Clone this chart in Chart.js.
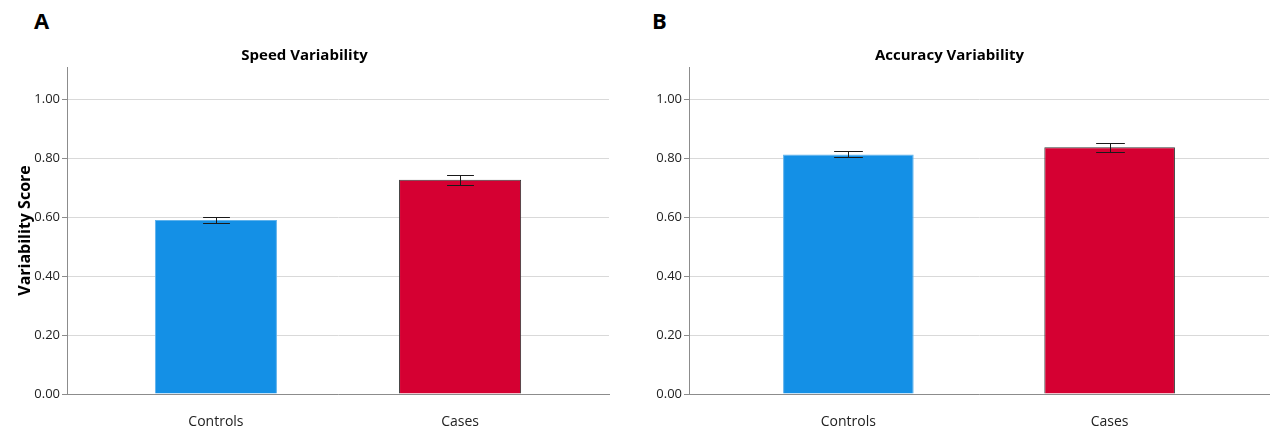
<!DOCTYPE html>
<html>
<head>
<meta charset="utf-8">
<script src="https://cdn.jsdelivr.net/npm/chart.js@4.4.1/dist/chart.umd.min.js"></script>
<style>
  body { margin: 0; background: #fff; width: 1271px; height: 432px; position: relative; overflow: hidden; font-family: 'Open Sans', sans-serif; }
  .panel { position: absolute; top: 0; height: 432px; }
  .tag { position: absolute; top: 5px; font: bold 22px 'Open Sans', sans-serif; color: #000; }
</style>
</head>
<body>
<div class="tag" style="left:34px">A</div>
<div class="tag" style="left:652px">B</div>
<div class="panel" style="left:0; width:615px"><canvas id="chartSpeed"></canvas></div>
<div class="panel" style="left:630px; width:641px"><canvas id="chartAcc"></canvas></div>
<script>
const groups = ['Controls', 'Cases'];
const speedMean = [0.591, 0.727];
const speedLow = [0.581, 0.710];
const speedHigh = [0.601, 0.743];
const accMean = [0.813, 0.838];
const accLow = [0.804, 0.823];
const accHigh = [0.824, 0.851];
const yTicks = [0, 0.2, 0.4, 0.6, 0.8, 1.0];
const barColors = ['#1490e6', '#d50032'];
const barBorders = ['#5fb2ec', '#3a3a3a'];

Chart.defaults.font.family = "'Open Sans', sans-serif";
Chart.defaults.color = '#222';

// draws the error bars with caps on top of each bar
const errorBars = {
  id: 'errorBars',
  afterDatasetsDraw(chart, args, opts) {
    const ctx = chart.ctx;
    const y = chart.scales.y;
    const meta = chart.getDatasetMeta(0);
    ctx.save();
    ctx.strokeStyle = '#1a1a1a';
    ctx.lineWidth = 1;
    meta.data.forEach((bar, i) => {
      const x = Math.round(bar.x) + 0.5;
      const half = bar.width * 0.11;
      const top = Math.round(y.getPixelForValue(opts.high[i])) + 0.5;
      const bot = Math.round(y.getPixelForValue(opts.low[i])) + 0.5;
      ctx.beginPath();
      ctx.moveTo(x, top); ctx.lineTo(x, bot);
      ctx.moveTo(x - half, top); ctx.lineTo(x + half, top);
      ctx.moveTo(x - half, bot); ctx.lineTo(x + half, bot);
      ctx.stroke();
    });
    ctx.restore();
  }
};

function makeChart(id, title, means, low, high, yWidth, padRight, yTitle) {
  return new Chart(document.getElementById(id), {
    type: 'bar',
    data: {
      datasets: [{
        data: means.map((v, i) => ({ x: i, y: v })),
        backgroundColor: barColors,
        borderColor: barBorders,
        borderWidth: 1,
        barPercentage: 0.5,
        categoryPercentage: 1
      }]
    },
    options: {
      responsive: true,
      maintainAspectRatio: false,
      animation: false,
      layout: { padding: { left: 0, right: padRight, top: 0, bottom: 0 } },
      plugins: {
        legend: { display: false },
        tooltip: { enabled: false },
        title: {
          display: true,
          text: title,
          color: '#000',
          font: { size: 15, weight: 'bold' },
          padding: { top: 47, bottom: 2 }
        },
        errorBars: { low: low, high: high }
      },
      scales: {
        x: {
          type: 'linear',
          offset: false,
          min: -0.61,
          max: 1.61,
          grid: { display: false, drawTicks: false, offset: false },
          border: { color: '#8c8c8c' },
          afterBuildTicks: (s) => { s.ticks = groups.map((g, i) => ({ value: i })); },
          afterFit: (s) => { s.height = 38; },
          ticks: {
            padding: 20,
            font: { size: 14 },
            callback: (v) => groups[v]
          }
        },
        y: {
          min: 0,
          max: 1.11,
          grid: { color: '#d9d9d9', tickColor: '#8c8c8c', tickLength: 5 },
          border: { color: '#8c8c8c' },
          afterBuildTicks: (s) => { s.ticks = yTicks.map(v => ({ value: v })); },
          afterFit: (s) => { s.width = yWidth; },
          ticks: {
            padding: 2,
            font: { size: 13 },
            callback: (v) => Number(v).toFixed(2)
          },
          title: {
            display: !!yTitle,
            text: yTitle,
            color: '#000',
            font: { size: 16, weight: 'bold' },
            padding: { top: 16, bottom: 0 }
          }
        }
      }
    },
    plugins: [errorBars]
  });
}

makeChart('chartSpeed', 'Speed Variability', speedMean, speedLow, speedHigh, 67, 6, 'Variability Score');
makeChart('chartAcc', 'Accuracy Variability', accMean, accLow, accHigh, 59, 2, '');
</script>
</body>
</html>
